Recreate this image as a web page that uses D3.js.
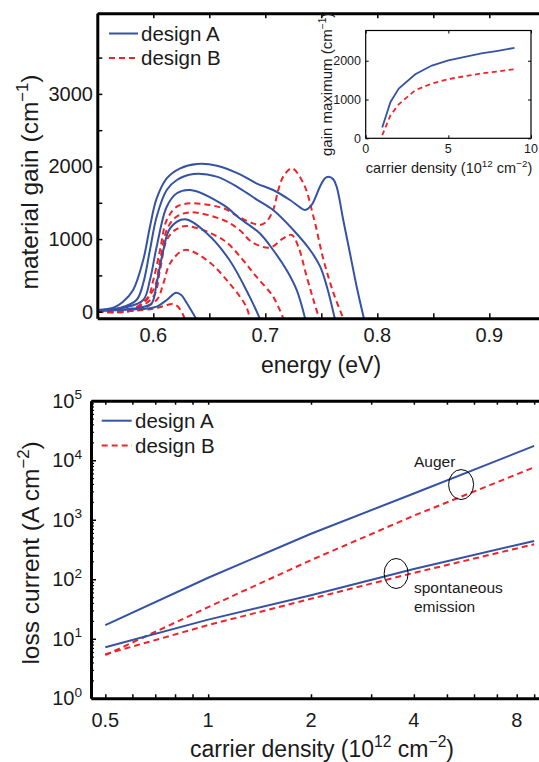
<!DOCTYPE html>
<html><head><meta charset="utf-8">
<script src="https://cdn.jsdelivr.net/npm/d3@7"></script>
<style>body{margin:0;background:#fff}svg{display:block;font-family:"Liberation Sans",Arial,Helvetica,sans-serif}</style>
</head><body><svg id="c" width="539" height="762"></svg>
<script>
// ---------- DATA ----------
// Top panel: material gain spectra, each curve as [energy eV, gain cm^-1]
const gainA = [
  [[0.55,25],[0.565,60],[0.573,138],[0.582,300],[0.591,712],[0.597,1170],[0.603,1560],[0.612,1837],[0.624,1975],[0.639,2034],[0.657,2011],[0.677,1895],[0.692,1768],[0.707,1676],[0.722,1538],[0.731,1438],[0.7355,1400],[0.7414,1470],[0.7488,1722],[0.7533,1837],[0.7563,1860],[0.7607,1824],[0.7637,1722],[0.7696,1263],[0.7756,804],[0.7816,344],[0.788,-91]],
  [[0.55,20],[0.57,50],[0.585,161],[0.591,391],[0.597,850],[0.603,1309],[0.612,1676],[0.621,1814],[0.636,1897],[0.6566,1860],[0.677,1700],[0.692,1548],[0.707,1400],[0.725,1125],[0.740,850],[0.749,620],[0.755,344],[0.762,-91]],
  [[0.55,15],[0.575,60],[0.591,161],[0.597,437],[0.603,895],[0.612,1446],[0.621,1631],[0.633,1676],[0.6625,1470],[0.677,1286],[0.695,1080],[0.707,850],[0.719,574],[0.728,299],[0.7355,-91]],
  [[0.55,10],[0.58,40],[0.59,60],[0.5986,116],[0.603,391],[0.609,850],[0.615,1149],[0.628,1273],[0.6477,1080],[0.668,712],[0.686,207],[0.695,-91]],
  [[0.55,10],[0.58,30],[0.595,45],[0.603,69],[0.612,161],[0.6203,262],[0.625,230],[0.63,116],[0.638,-91]]
];
const gainB = [
  [[0.55,0],[0.575,15],[0.594,161],[0.6,437],[0.606,850],[0.612,1263],[0.621,1446],[0.634,1493],[0.6625,1424],[0.677,1300],[0.689,1217],[0.695,1194],[0.701,1240],[0.707,1400],[0.7116,1676],[0.716,1860],[0.7236,1975],[0.734,1769],[0.743,1309],[0.752,712],[0.761,253],[0.7696,-91]],
  [[0.55,0],[0.58,20],[0.6,299],[0.606,712],[0.612,1125],[0.62,1300],[0.633,1369],[0.6625,1263],[0.677,1125],[0.688,960],[0.704,882],[0.716,1011],[0.7236,1056],[0.7295,895],[0.737,482],[0.743,161],[0.748,-91]],
  [[0.55,0],[0.58,15],[0.6,207],[0.606,574],[0.612,988],[0.62,1130],[0.63,1180],[0.6625,988],[0.68,712],[0.692,482],[0.707,207],[0.716,-91]],
  [[0.55,0],[0.585,20],[0.603,161],[0.609,391],[0.615,667],[0.628,850],[0.6477,712],[0.668,391],[0.683,69],[0.686,-91]],
  [[0.55,0],[0.58,10],[0.6,40],[0.61,80],[0.617,105],[0.622,70],[0.628,-91]]
];
const gainXTicks = [0.55,0.6,0.65,0.7,0.75,0.8,0.85,0.9,0.95];
const gainXLabels = [0.6,0.7,0.8,0.9];
const gainYTicks = [0,500,1000,1500,2000,2500,3000,3500];
const gainYLabels = [0,1000,2000,3000];

// Inset: gain maximum vs carrier density
const insetDensity = [1,1.5,2,3,4,5,6,7,8,9];
const insetA = [276,938,1283,1650,1877,2007,2100,2188,2256,2333];
const insetB = [80,594,878,1240,1413,1525,1602,1672,1723,1783];
const insetXTicks = [0,5,10];
const insetYTicks = [0,1000,2000];

// Bottom panel: loss current vs carrier density
const density = [0.5,1,2,4,9];
const augerA = [17,106,582,2760,17400];
const augerB = [5.3,34,210,1170,7600];
const spontA = [7.2,21,54,149,440];
const spontB = [5.5,17,47,128,387];
const lossXLabels = [0.5,1,2,4,8];
const lossXMinor = [0.6,0.7,0.8,0.9,3,5,6,7,9,10];
const lossYDecades = [0,1,2,3,4,5];

const blue = "#3553a5", red = "#ee2428", ink = "#1a1a1a";
const svg = d3.select("#c");

function supText(g, x, y, parts, size, anchor, rot){
  const t = g.append("text").attr("font-size", size).attr("fill", ink)
    .attr("text-anchor", anchor || "start");
  if (rot) t.attr("transform", `translate(${x},${y}) rotate(${rot})`);
  else t.attr("x", x).attr("y", y);
  let up = false;
  parts.forEach(p => {
    const s = t.append("tspan").text(p[0]);
    if (p[1]) { s.attr("font-size", size*0.68).attr("dy", -size*0.42); up = true; }
    else if (up) { s.attr("dy", size*0.42); up = false; }
  });
  return t;
}

// ---------- TOP PANEL ----------
const xT = d3.scaleLinear().domain([0.55,0.95]).range([97.3,545.3]);
const yT = d3.scaleLinear().domain([-91,4110]).range([318.3,13.3]);
svg.append("clipPath").attr("id","clipT").append("rect")
  .attr("x", xT(0.55)).attr("y", yT(4110)).attr("width", xT(0.95)-xT(0.55)).attr("height", yT(-91)-yT(4110));
const lineT = d3.line().x(d=>xT(d[0])).y(d=>yT(d[1])).curve(d3.curveCatmullRom.alpha(0.5));
const gT = svg.append("g").attr("clip-path","url(#clipT)");
gainB.forEach(c => gT.append("path").attr("d", lineT(c)).attr("fill","none").attr("stroke",red).attr("stroke-width",2).attr("stroke-dasharray","6,4"));
gainA.forEach(c => gT.append("path").attr("d", lineT(c)).attr("fill","none").attr("stroke",blue).attr("stroke-width",2));

function styleAxis(g, w){ g.select(".domain").attr("stroke","#000").attr("stroke-width",w); g.selectAll(".tick line").attr("stroke","#000").attr("stroke-width",1.5); g.selectAll("text").remove(); }
svg.append("g").attr("transform",`translate(0,${yT(-91)})`).call(d3.axisBottom(xT).tickValues(gainXTicks).tickSize(-5).tickSizeOuter(0)).call(g=>styleAxis(g,3));
svg.append("g").attr("transform",`translate(0,${yT(4110)})`).call(d3.axisTop(xT).tickValues(gainXTicks).tickSize(-5).tickSizeOuter(0)).call(g=>styleAxis(g,3));
svg.append("g").attr("transform",`translate(${xT(0.55)},0)`).call(d3.axisLeft(yT).tickValues(gainYTicks).tickSize(-5).tickSizeOuter(0)).call(g=>styleAxis(g,3));
gainXLabels.forEach(v => svg.append("text").attr("x", xT(v)).attr("y", 342).attr("text-anchor","middle").attr("font-size",20).attr("fill",ink).text(v.toFixed(1)));
gainYLabels.forEach(v => svg.append("text").attr("x", 93).attr("y", yT(v)+7).attr("text-anchor","end").attr("font-size",20).attr("fill",ink).text(v));
svg.append("text").attr("x", 321).attr("y", 373).attr("text-anchor","middle").attr("font-size",23).attr("fill",ink).text("energy (eV)");
supText(svg, 38, 182, [["material gain (cm"],["−1",true],[")"]], 24.5, "middle", -90);
// legend
svg.append("line").attr("x1",109).attr("x2",138).attr("y1",33.5).attr("y2",33.5).attr("stroke",blue).attr("stroke-width",2);
svg.append("text").attr("x",141).attr("y",41).attr("font-size",20.5).attr("fill",ink).text("design A");
svg.append("line").attr("x1",109).attr("x2",139).attr("y1",58).attr("y2",58).attr("stroke",red).attr("stroke-width",2).attr("stroke-dasharray","6,4");
svg.append("text").attr("x",141).attr("y",65).attr("font-size",20.5).attr("fill",ink).text("design B");

// ---------- INSET ----------
const xI = d3.scaleLinear().domain([0,10]).range([365.7,531]);
const yI = d3.scaleLinear().domain([0,2780]).range([138.3,30.5]);
svg.append("rect").attr("x",xI(0)).attr("y",yI(2780)).attr("width",xI(10)-xI(0)).attr("height",yI(0)-yI(2780)).attr("fill","#fff").attr("stroke","#000").attr("stroke-width",1.2);
const lineI = d3.line().x((d,i)=>xI(insetDensity[i])).y(d=>yI(d));
svg.append("path").attr("d", lineI(insetB)).attr("fill","none").attr("stroke",red).attr("stroke-width",1.8).attr("stroke-dasharray","5,3.5");
svg.append("path").attr("d", lineI(insetA)).attr("fill","none").attr("stroke",blue).attr("stroke-width",1.8);
function styleIn(g){ g.select(".domain").remove(); g.selectAll(".tick line").attr("stroke","#000").attr("stroke-width",1); g.selectAll("text").remove(); }
svg.append("g").attr("transform",`translate(0,${yI(0)})`).call(d3.axisBottom(xI).tickValues(insetXTicks).tickSize(-3)).call(styleIn);
svg.append("g").attr("transform",`translate(0,${yI(2780)})`).call(d3.axisTop(xI).tickValues(insetXTicks).tickSize(-3)).call(styleIn);
svg.append("g").attr("transform",`translate(${xI(0)},0)`).call(d3.axisLeft(yI).tickValues(insetYTicks).tickSize(-3)).call(styleIn);
svg.append("g").attr("transform",`translate(${xI(10)},0)`).call(d3.axisRight(yI).tickValues(insetYTicks).tickSize(-3)).call(styleIn);
insetXTicks.forEach(v => svg.append("text").attr("x", xI(v)).attr("y", 153).attr("text-anchor","middle").attr("font-size",12.5).attr("fill",ink).text(v));
insetYTicks.forEach(v => svg.append("text").attr("x", 361).attr("y", yI(v)+4.5).attr("text-anchor","end").attr("font-size",12.5).attr("fill",ink).text(v));
supText(svg, 449, 173, [["carrier density (10"],["12",true],[" cm"],["−2",true],[")"]], 14.5, "middle");
supText(svg, 332, 156, [["gain maximum (cm"],["−1",true],[")"]], 15, "start", -90);

// ---------- BOTTOM PANEL ----------
const xB = d3.scaleLog().domain([0.454,10]).range([91,549.8]);
const yB = d3.scaleLog().domain([1,1e5]).range([698.3,400.7]);
const lineB = d3.line().x((d,i)=>xB(density[i])).y(d=>yB(d));
svg.append("path").attr("d", lineB(augerB)).attr("fill","none").attr("stroke",red).attr("stroke-width",2).attr("stroke-dasharray","6,4");
svg.append("path").attr("d", lineB(spontB)).attr("fill","none").attr("stroke",red).attr("stroke-width",2).attr("stroke-dasharray","6,4");
svg.append("path").attr("d", lineB(augerA)).attr("fill","none").attr("stroke",blue).attr("stroke-width",2);
svg.append("path").attr("d", lineB(spontA)).attr("fill","none").attr("stroke",blue).attr("stroke-width",2);

const yMinor = [];
lossYDecades.slice(0,-1).forEach(e => { for (let k=2;k<=9;k++) yMinor.push(k*Math.pow(10,e)); });
const yMajor = lossYDecades.map(e => Math.pow(10,e));
const xAll = lossXLabels.concat(lossXMinor);
svg.append("g").attr("transform",`translate(0,${yB(1)})`).call(d3.axisBottom(xB).tickValues(xAll).tickSize(-4).tickSizeOuter(0)).call(g=>styleAxis(g,3));
svg.append("g").attr("transform",`translate(0,${yB(1e5)})`).call(d3.axisTop(xB).tickValues(xAll).tickSize(-4).tickSizeOuter(0)).call(g=>styleAxis(g,3));
svg.append("g").attr("transform",`translate(${xB(0.454)},0)`).call(d3.axisLeft(yB).tickValues(yMajor).tickSize(-5).tickSizeOuter(0)).call(g=>styleAxis(g,3));
svg.append("g").attr("transform",`translate(${xB(0.454)},0)`).call(d3.axisLeft(yB).tickValues(yMinor).tickSize(-3).tickSizeOuter(0)).call(g=>{g.select(".domain").remove(); g.selectAll(".tick line").attr("stroke","#000").attr("stroke-width",1.2); g.selectAll("text").remove();});
lossXLabels.forEach(v => svg.append("text").attr("x", xB(v)).attr("y", 727).attr("text-anchor","middle").attr("font-size",20).attr("fill",ink).text(v));
lossYDecades.forEach(e => supText(svg, 82, yB(Math.pow(10,e))+7, [["10"],[String(e),true]], 20, "end"));
supText(svg, 322, 757, [["carrier density (10"],["12",true],[" cm"],["−2",true],[")"]], 23, "middle");
supText(svg, 39, 553, [["loss current (A cm"],["−2",true],[")"]], 24.5, "middle", -90);
// legend
svg.append("line").attr("x1",101.7).attr("x2",131.7).attr("y1",420.7).attr("y2",420.7).attr("stroke",blue).attr("stroke-width",2);
svg.append("text").attr("x",135).attr("y",428).attr("font-size",20.5).attr("fill",ink).text("design A");
svg.append("line").attr("x1",101.7).attr("x2",132).attr("y1",445.5).attr("y2",445.5).attr("stroke",red).attr("stroke-width",2).attr("stroke-dasharray","6,4");
svg.append("text").attr("x",135).attr("y",453).attr("font-size",20.5).attr("fill",ink).text("design B");
// annotations
svg.append("ellipse").attr("cx",xB(5.5)).attr("cy",yB(3900)).attr("rx",12.5).attr("ry",15).attr("fill","none").attr("stroke","#000").attr("stroke-width",1);
svg.append("ellipse").attr("cx",xB(3.55)).attr("cy",yB(125)).attr("rx",12).attr("ry",15).attr("fill","none").attr("stroke","#000").attr("stroke-width",1);
svg.append("text").attr("x",414).attr("y",467).attr("font-size",15.5).attr("fill",ink).text("Auger");
svg.append("text").attr("x",414).attr("y",593).attr("font-size",15.5).attr("fill",ink).text("spontaneous");
svg.append("text").attr("x",414).attr("y",612).attr("font-size",15.5).attr("fill",ink).text("emission");
</script></body></html>
